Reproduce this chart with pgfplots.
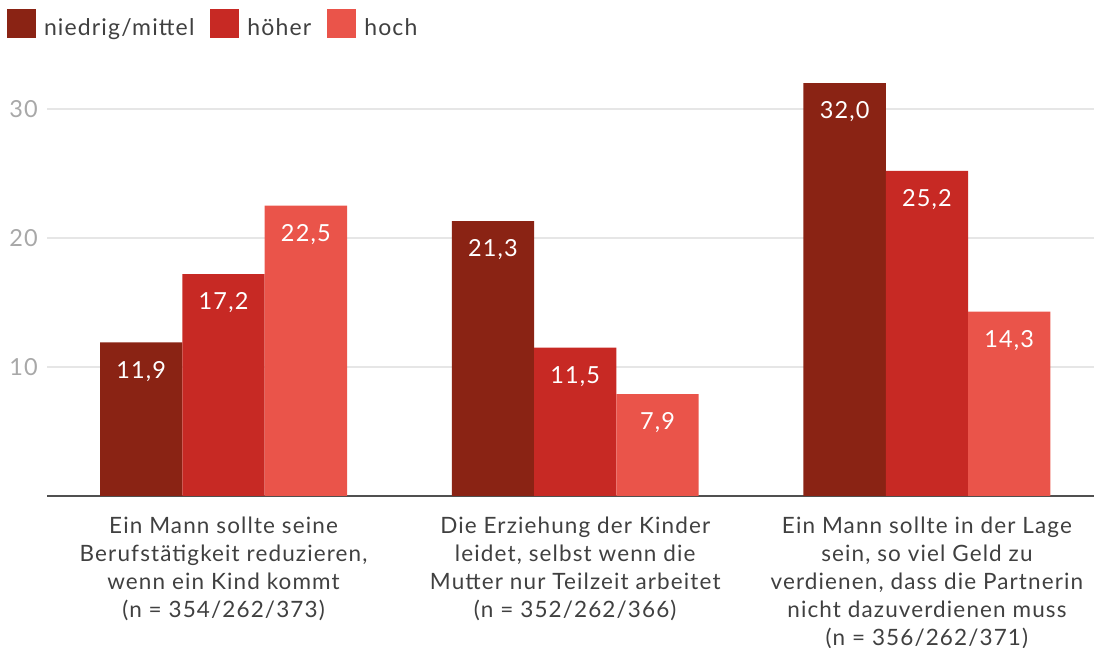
\documentclass[border=0pt]{standalone}
\usepackage{pgfplots}
\pgfplotsset{compat=1.18}
\usepackage{fontspec}
\setmainfont{Lato}[LetterSpace=5]
\definecolor{c1}{HTML}{8A2314}
\definecolor{c2}{HTML}{C72924}
\definecolor{c3}{HTML}{EA544A}
\definecolor{txt}{HTML}{404040}
\definecolor{ticktxt}{HTML}{A8A8A8}
\definecolor{gridc}{HTML}{E6E6E6}
\definecolor{axc}{HTML}{505050}
\begin{document}
\begin{tikzpicture}
\path[use as bounding box] (0,0) rectangle (1094bp,648bp);
\begin{axis}[
  at={(47bp,152bp)}, anchor=south west,
  scale only axis, width=1047bp, height=412.8bp,
  xmin=-0.502, xmax=2.475, ymin=0, ymax=32,
  ybar=0pt, bar width=82.3bp,
  axis x line*=bottom, axis y line*=left,
  y axis line style={draw=none},
  x axis line style={color=axc, line width=2bp},
  major tick length=0pt,
  ytick={10,20,30},
  ymajorgrids, grid style={color=gridc, line width=1.5bp},
  xtick={0,1,2},
  xticklabels={{Ein Mann sollte seine\\Berufstätigkeit reduzieren,\\wenn ein Kind kommt\\(n = 354/262/373)},
               {Die Erziehung der Kinder\\leidet, selbst wenn die\\Mutter nur Teilzeit arbeitet\\(n = 352/262/366)},
               {Ein Mann sollte in der Lage\\sein, so viel Geld zu\\verdienen, dass die Partnerin\\nicht dazuverdienen muss\\(n = 356/262/371)}},
  xticklabel style={align=center, anchor=north, inner sep=0pt, yshift=-20.5bp, font=\fontsize{22.5bp}{28bp}\selectfont, text=txt},
  yticklabel style={anchor=east, inner sep=0pt, xshift=-9bp, font=\fontsize{23.5bp}{28bp}\selectfont, text=ticktxt},
  /pgf/number format/assume math mode=true,
  nodes near coords={\pgfmathprintnumber[fixed,fixed zerofill,precision=1,use comma,assume math mode=true]{\pgfplotspointmeta}},
  every node near coord/.append style={anchor=north, inner sep=0pt, yshift=-18.5bp, text=white, font=\fontsize{23.5bp}{28bp}\selectfont},
  legend columns=-1,
  legend image code/.code={\fill[#1,draw=none] (0bp,-14.5bp) rectangle (29bp,14.5bp);},
  legend style={at={(-0.0382,1.1797)}, anchor=north west, draw=none, fill=none, inner sep=0pt, outer sep=0pt,
    font=\fontsize{23bp}{28bp}\selectfont, text=txt,
    nodes={inner sep=0pt, text height=26bp, text depth=3bp},
    /tikz/every odd column/.append style={column sep=8bp},
    /tikz/every even column/.append style={column sep=16bp}},
]
\addplot[fill=c1, draw=none] coordinates {(0,11.9) (1,21.3) (2,32.0)};
\addplot[fill=c2, draw=none] coordinates {(0,17.2) (1,11.5) (2,25.2)};
\addplot[fill=c3, draw=none] coordinates {(0,22.5) (1,7.9) (2,14.3)};
\legend{niedrig/mittel, höher, hoch}
\end{axis}
\end{tikzpicture}
\end{document}
